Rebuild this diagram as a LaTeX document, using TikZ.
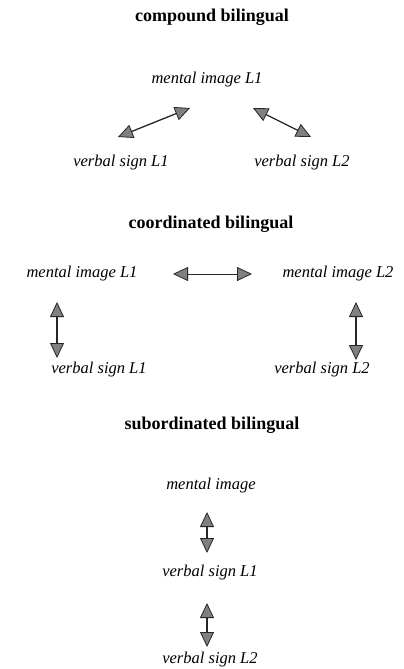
\documentclass[tikz,border=0pt]{standalone}
\usepackage{fontspec}
\setmainfont{Liberation Serif}
\usetikzlibrary{arrows.meta}
\tikzset{
  lbl/.style={inner sep=0pt, font=\fontsize{16.5}{18}\selectfont\itshape},
  ttl/.style={inner sep=0pt, font=\fontsize{18}{20}\selectfont\bfseries},
  mytip/.tip={Triangle[length=15pt,width=14pt,fill=black!50,color=black!85,line width=0.8pt]},
  link/.style={{mytip}-{mytip}, line width=1.3pt, draw=black!85},
  thinlink/.style={{mytip}-{mytip}, line width=0.8pt, draw=black!85}
}
\begin{document}
\begin{tikzpicture}[x=1pt,y=-1pt]
\useasboundingbox (0,0) rectangle (404,669);
% compound
\node[ttl] (t1) at (212,17) {compound bilingual};
\node[lbl] (cmi) at (207,80) {mental image L1};
\node[lbl] (cv1) at (121,163) {verbal sign L1};
\node[lbl] (cv2) at (302,163) {verbal sign L2};
\coordinate (ca1) at (118,137);
\coordinate (ca2) at (190,108);
\coordinate (cb1) at (253,108);
\coordinate (cb2) at (311,137);
\draw[link] (ca1) -- (ca2);
\draw[link] (cb1) -- (cb2);
% coordinated
\node[ttl] (t2) at (211,224) {coordinated bilingual};
\node[lbl] (dmi1) at (82,274) {mental image L1};
\node[lbl] (dmi2) at (338,274) {mental image L2};
\node[lbl] (dv1) at (99,370) {verbal sign L1};
\node[lbl] (dv2) at (322,370) {verbal sign L2};
\coordinate (dh1) at (173,274);
\coordinate (dh2) at (252,274);
\coordinate (dl1) at (57,302);
\coordinate (dl2) at (57,358);
\coordinate (dr1) at (356,302);
\coordinate (dr2) at (356,360);
\draw[thinlink] (dh1) -- (dh2);
\draw[link] (dl1) -- (dl2);
\draw[link] (dr1) -- (dr2);
% subordinated
\node[ttl] (t3) at (212,425) {subordinated bilingual};
\node[lbl] (smi) at (211,486) {mental image};
\node[lbl] (sv1) at (210,573) {verbal sign L1};
\node[lbl] (sv2) at (210,660) {verbal sign L2};
\coordinate (s1a) at (207,512);
\coordinate (s1b) at (207,553);
\coordinate (s2a) at (207,603);
\coordinate (s2b) at (207,647);
\draw[link] (s1a) -- (s1b);
\draw[link] (s2a) -- (s2b);
\end{tikzpicture}
\end{document}
